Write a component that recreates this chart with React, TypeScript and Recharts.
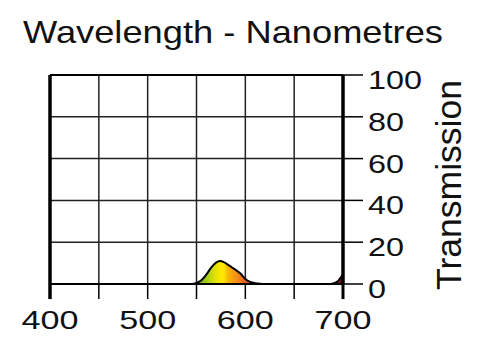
import React from "react";
import {
  Area,
  CartesianGrid,
  ComposedChart,
  ReferenceLine,
  XAxis,
  YAxis,
} from "recharts";

const wavelengths = [
  400, 450, 500, 530, 540, 545, 550, 555, 560, 565, 570, 574, 578, 582, 586,
  590, 595, 600, 605, 610, 615, 620, 640, 660, 680, 685, 690, 695, 700,
];
const transmission = [
  0, 0, 0, 0, 0, 0, 0.5, 1.8, 4.5, 7.8, 10.2, 11, 10.5, 9.3, 8, 6.8, 5, 2.4,
  1, 0.4, 0.1, 0, 0, 0, 0, 0, 0.3, 1.5, 4.8,
];
const xTicks = [400, 450, 500, 550, 600, 650, 700];
const yTicks = [0, 20, 40, 60, 80, 100];

const data = wavelengths.map((nm, i) => ({ nm, t: transmission[i] }));

const FONT = '"Liberation Sans", Arial, Helvetica, sans-serif';

function XTick(props: any) {
  const { x, y, payload } = props;
  if (payload.value % 100 !== 0) return <g />;
  const label = String(payload.value);
  return (
    <text
      x={x}
      y={y}
      dy={28}
      textAnchor="middle"
      fontSize={25}
      fontFamily={FONT}
      fill="#111"
      textLength={label.length * 19}
      lengthAdjust="spacingAndGlyphs"
    >
      {label}
    </text>
  );
}

function YTick(props: any) {
  const { x, y, payload } = props;
  const label = String(payload.value);
  return (
    <text
      x={x}
      y={y}
      dx={3}
      dy={14}
      textAnchor="start"
      fontSize={25}
      fontFamily={FONT}
      fill="#111"
      textLength={label.length * 18}
      lengthAdjust="spacingAndGlyphs"
    >
      {label}
    </text>
  );
}

export default function App() {
  return (
    <div style={{ position: "absolute", left: 0, top: 0, width: 500, height: 352, background: "#fff" }}>
      <ComposedChart
        width={500}
        height={352}
        data={data}
        margin={{ top: 75, right: 57, bottom: 28, left: 50 }}
      >
        <defs>
          <linearGradient id="spectrum" x1="0" y1="0" x2="1" y2="0">
            <stop offset="0.48" stopColor="#3d9a1e" />
            <stop offset="0.517" stopColor="#7fba1d" />
            <stop offset="0.55" stopColor="#c5d80f" />
            <stop offset="0.573" stopColor="#f2e600" />
            <stop offset="0.593" stopColor="#ffe800" />
            <stop offset="0.607" stopColor="#f9b800" />
            <stop offset="0.64" stopColor="#f28a1e" />
            <stop offset="0.673" stopColor="#e4561a" />
            <stop offset="0.707" stopColor="#c8201a" />
            <stop offset="0.933" stopColor="#9a1a1a" />
            <stop offset="1" stopColor="#7a1418" />
          </linearGradient>
        </defs>
        <CartesianGrid stroke="#222" strokeWidth={1.5} />
        <XAxis
          dataKey="nm"
          type="number"
          domain={[400, 700]}
          ticks={xTicks}
          interval={0}
          height={40}
          tickSize={15}
          axisLine={{ stroke: "#000", strokeWidth: 2 }}
          tickLine={{ stroke: "#000", strokeWidth: 1.5 }}
          tick={<XTick />}
        />
        <YAxis
          orientation="right"
          type="number"
          domain={[0, 100]}
          ticks={yTicks}
          interval={0}
          width={100}
          tickSize={20}
          axisLine={{ stroke: "#000", strokeWidth: 3 }}
          tickLine={{ stroke: "#000", strokeWidth: 1.5 }}
          tick={<YTick />}
        />
        <ReferenceLine y={100} stroke="#000" strokeWidth={2} />
        <ReferenceLine
          segment={[{ x: 400, y: -7.2 }, { x: 400, y: 100 }]}
          stroke="#000"
          strokeWidth={3.5}
          ifOverflow="visible"
        />
        <ReferenceLine
          segment={[{ x: 700, y: -7.2 }, { x: 700, y: 100 }]}
          stroke="#000"
          strokeWidth={3}
          ifOverflow="visible"
        />
        <Area
          dataKey="t"
          type="monotone"
          stroke="#000"
          strokeWidth={2}
          fill="url(#spectrum)"
          fillOpacity={1}
          isAnimationActive={false}
        />
      </ComposedChart>
      <svg
        width={500}
        height={352}
        style={{ position: "absolute", left: 0, top: 0, pointerEvents: "none" }}
      >
        <text
          x={23}
          y={43}
          fontSize={32}
          fontFamily={FONT}
          fill="#111"
          textLength={420}
          lengthAdjust="spacingAndGlyphs"
        >
          Wavelength - Nanometres
        </text>
        <text
          x={461}
          y={185}
          transform="rotate(-90, 461, 185)"
          textAnchor="middle"
          fontSize={35}
          fontFamily={FONT}
          fill="#111"
          textLength={210}
          lengthAdjust="spacingAndGlyphs"
        >
          Transmission
        </text>
      </svg>
    </div>
  );
}
